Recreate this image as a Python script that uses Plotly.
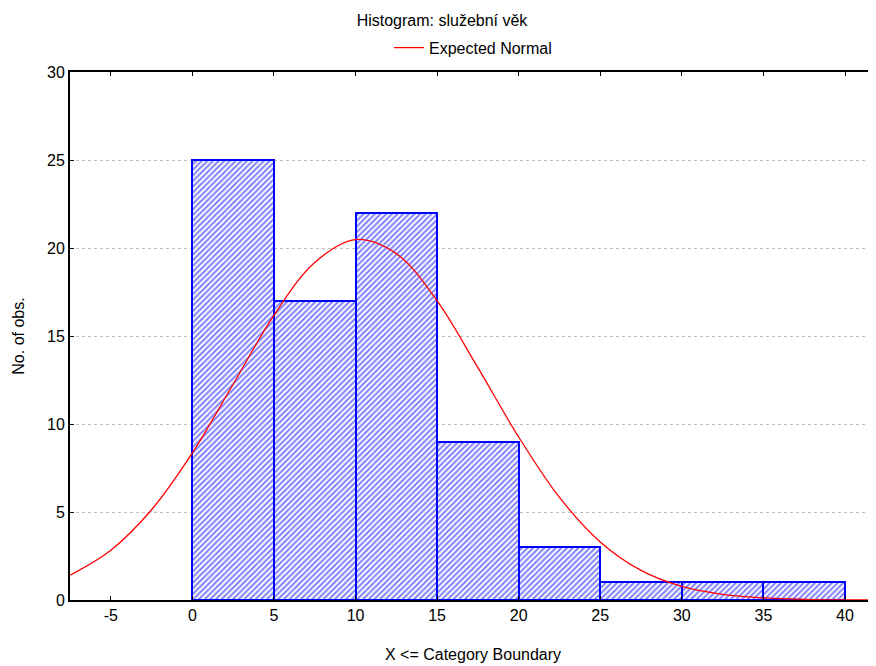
import plotly.graph_objects as go

# Histogram bins (lower category boundaries) and counts
bin_left = [0, 5, 10, 15, 20, 25, 30, 35]
counts = [25, 17, 22, 9, 3, 1, 1, 1]

# Expected normal curve
curve_x = [-7.5, -5, -2.5, 0, 2.5, 5, 7.5, 10, 12.5, 15, 17.5, 20, 22.5, 25, 27.5, 30, 32.5, 35, 37.5, 40, 42]
curve_y = [1.41, 2.83, 5.13, 8.36, 12.26, 16.17, 19.18, 20.48, 19.68, 17.0, 13.2, 9.26, 5.83, 3.30, 1.68, 0.77, 0.32, 0.12, 0.04, 0.01, 0.003]

x_ticks = [-5, 0, 5, 10, 15, 20, 25, 30, 35, 40]
x_tick_labels = ["-5", "0", "5", "10", "15", "20", "25", "30", "35", "40"]
y_ticks = [0, 5, 10, 15, 20, 25, 30]

bin_width = 5
centers = [b + bin_width / 2 for b in bin_left]

fig = go.Figure()
fig.add_trace(go.Bar(
    x=centers, y=counts, width=[bin_width] * len(counts),
    marker=dict(color="white",
                line=dict(color="#0000ff", width=2),
                pattern=dict(shape="/", fgcolor="#0000ff", bgcolor="white",
                             size=4, solidity=0.5)),
    showlegend=False, hoverinfo="skip",
))
fig.add_trace(go.Scatter(
    x=curve_x, y=curve_y, mode="lines", line=dict(color="#ff0000", width=1.3, shape="spline"),
    name="Expected Normal",
))

font = "Liberation Sans, Arial, sans-serif"
fig.update_layout(
    width=868, height=658,
    margin=dict(l=62, r=0, t=64, b=66),
    paper_bgcolor="white", plot_bgcolor="white",
    font=dict(family=font, size=16, color="black"),
    title=dict(text="Histogram: služební věk", x=0.5, xanchor="center", y=0.981, yanchor="middle",
               font=dict(size=16)),
    legend=dict(orientation="h", x=0.5, xanchor="center", y=1.046, yanchor="middle",
                font=dict(size=16), bgcolor="rgba(0,0,0,0)"),
    bargap=0,
    xaxis=dict(range=[-7.5, 41.9], tickvals=x_ticks, ticktext=x_tick_labels,
               ticks="inside", ticklen=4,
               tickcolor="black", showline=True, linecolor="black", linewidth=2,
               mirror="ticks", showgrid=False, zeroline=False,
               title=dict(text="X <= Category Boundary", font=dict(size=16), standoff=26),
               tickfont=dict(size=16)),
    yaxis=dict(range=[0, 30], tickvals=y_ticks, ticks="inside", ticklen=4,
               tickcolor="black", showline=True, linecolor="black", linewidth=2,
               showgrid=True, gridcolor="#c0c0c0", griddash="dot", gridwidth=1,
               zeroline=False,
               title=dict(text="No. of obs.", font=dict(size=16), standoff=18),
               tickfont=dict(size=16)),
)

fig.write_html("out.html")
